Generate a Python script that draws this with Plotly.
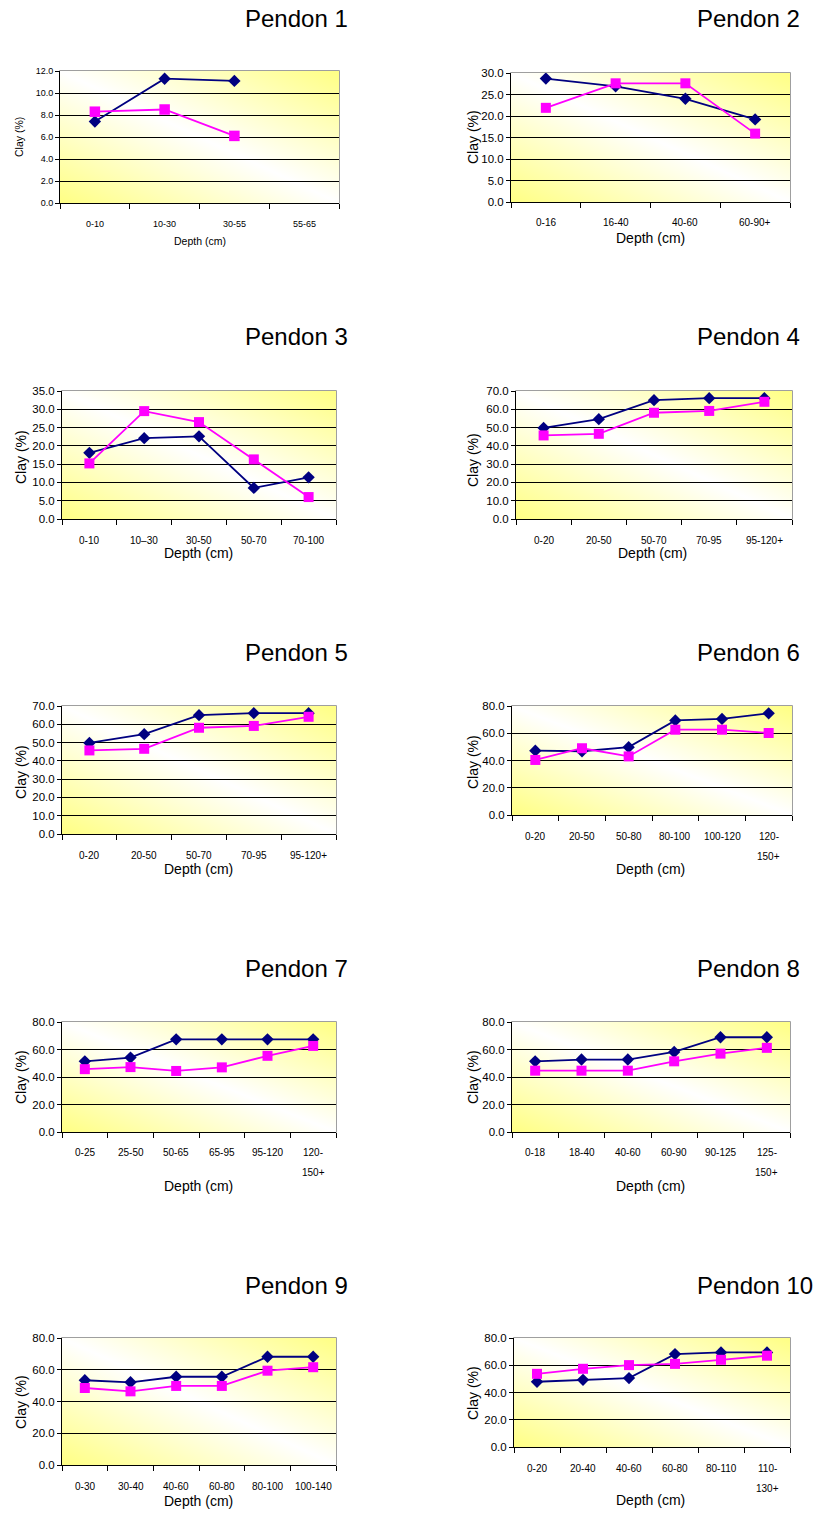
import base64
import plotly.graph_objects as go

# ---------------- data ----------------
titles = ["Pendon 1", "Pendon 2", "Pendon 3", "Pendon 4", "Pendon 5",
          "Pendon 6", "Pendon 7", "Pendon 8", "Pendon 9", "Pendon 10"]

depth_1 = ["0-10", "10-30", "30-55", "55-65"]
navy_1 = [7.4, 11.3, 11.1]
pink_1 = [8.3, 8.5, 6.1]

depth_2 = ["0-16", "16-40", "40-60", "60-90+"]
navy_2 = [28.7, 26.9, 24.0, 19.2]
pink_2 = [21.9, 27.6, 27.6, 15.9]

depth_3 = ["0-10", "10\u201330", "30-50", "50-70", "70-100"]
navy_3 = [18.1, 22.1, 22.6, 8.5, 11.4]
pink_3 = [15.2, 29.5, 26.5, 16.3, 6.0]

depth_4 = ["0-20", "20-50", "50-70", "70-95", "95-120+"]
navy_4 = [49.8, 54.6, 65.0, 66.1, 66.1]
pink_4 = [45.7, 46.6, 58.1, 59.1, 64.1]

depth_5 = ["0-20", "20-50", "50-70", "70-95", "95-120+"]
navy_5 = [49.8, 54.6, 65.0, 66.1, 66.1]
pink_5 = [45.7, 46.6, 58.1, 59.1, 64.1]

depth_6 = ["0-20", "20-50", "50-80", "80-100", "100-120", "120-<br>150+"]
navy_6 = [47.2, 46.8, 49.8, 69.4, 70.5, 74.6]
pink_6 = [40.4, 49.0, 43.0, 62.6, 62.6, 60.2]

depth_7 = ["0-25", "25-50", "50-65", "65-95", "95-120", "120-<br>150+"]
navy_7 = [51.4, 54.1, 67.4, 67.4, 67.4, 67.4]
pink_7 = [45.7, 47.2, 44.4, 47.0, 55.4, 62.6]

depth_8 = ["0-18", "18-40", "40-60", "60-90", "90-125", "125-<br>150+"]
navy_8 = [51.4, 52.7, 52.7, 58.2, 68.9, 68.9]
pink_8 = [44.6, 44.6, 44.6, 51.4, 57.0, 61.2]

depth_9 = ["0-30", "30-40", "40-60", "60-80", "80-100", "100-140"]
navy_9 = [53.4, 52.1, 55.6, 55.6, 68.2, 68.2]
pink_9 = [48.5, 46.4, 49.8, 49.8, 59.4, 61.6]

depth_10 = ["0-20", "20-40", "40-60", "60-80", "80-110", "110-<br>130+"]
navy_10 = [47.9, 49.3, 50.6, 68.2, 69.4, 69.4]
pink_10 = [53.7, 57.4, 60.1, 61.0, 64.0, 67.0]

y_max = [12, 30, 35, 70, 70, 80, 80, 80, 80, 80]
y_step = [2, 5, 5, 10, 10, 20, 20, 20, 20, 20]

depths = [depth_1, depth_2, depth_3, depth_4, depth_5,
          depth_6, depth_7, depth_8, depth_9, depth_10]
navies = [navy_1, navy_2, navy_3, navy_4, navy_5,
          navy_6, navy_7, navy_8, navy_9, navy_10]
pinks = [pink_1, pink_2, pink_3, pink_4, pink_5,
         pink_6, pink_7, pink_8, pink_9, pink_10]

# ---------------- layout geometry (pixels) ----------------
W, H = 821, 1513
boxes = [(60, 71, 339, 203), (511, 73, 790, 202),
         (62, 391, 336, 519), (516, 391, 792, 519),
         (62, 706, 336, 834), (512, 706, 792, 815),
         (62, 1022, 336, 1132), (512, 1022, 790, 1132),
         (62, 1338, 336, 1465), (514, 1338, 790, 1447)]
title_pos = [(243, 19), (695, 19), (243, 337), (695, 337), (243, 652),
             (695, 652), (243, 968), (695, 968), (243, 1285), (695, 1285)]
ytitle_pos = [(19, 137), (473, 137), (21, 457), (473, 460), (21, 772),
              (473, 762), (21, 1077), (473, 1077), (21, 1402), (473, 1393)]
xtitle_pos = [(200, 241), (650, 238), (198, 553), (652, 553), (198, 869),
              (650, 869), (198, 1186), (650, 1186), (198, 1501), (650, 1500)]

FONT = "Liberation Sans, Arial, sans-serif"
NAVY = "#000080"
PINK = "#FF00FF"

svg = ('<svg xmlns="http://www.w3.org/2000/svg" width="100" height="100" '
       'viewBox="0 0 100 100" preserveAspectRatio="none">'
       '<defs><linearGradient id="g" x1="0" y1="1" x2="1" y2="0">'
       '<stop offset="0" stop-color="#FFFF84"/>'
       '<stop offset="0.5" stop-color="#FFFFFF"/>'
       '<stop offset="1" stop-color="#FFFF84"/>'
       '</linearGradient></defs>'
       '<rect x="0" y="0" width="100" height="100" fill="url(#g)"/></svg>')
bg_src = "data:image/svg+xml;base64," + base64.b64encode(svg.encode()).decode()

fig = go.Figure()
annotations = []
shapes = []
images = []
layout_axes = {}

for k in range(10):
    idx = k + 1
    sfx = "" if idx == 1 else str(idx)
    xa, ya = "x" + sfx, "y" + sfx
    x0, y0, x1, y1 = boxes[k]
    cats = depths[k]
    n = len(cats)
    small = (k == 0)
    tick_fs = 9 if small else 10
    ytick_fs = 9 if small else 11.5
    title_fs = 10.5 if small else 14
    dsize = 9.5
    ssize = 10.5 if small else 10

    xs_n = list(range(len(navies[k])))
    xs_p = list(range(len(pinks[k])))
    fig.add_trace(go.Scatter(x=xs_n, y=navies[k], xaxis=xa, yaxis=ya,
                             mode="lines+markers", showlegend=False,
                             line=dict(color=NAVY, width=1.8),
                             marker=dict(symbol="diamond", size=dsize, color=NAVY)))
    fig.add_trace(go.Scatter(x=xs_p, y=pinks[k], xaxis=xa, yaxis=ya,
                             mode="lines+markers", showlegend=False,
                             line=dict(color=PINK, width=1.8),
                             marker=dict(symbol="square", size=ssize, color=PINK)))

    layout_axes["xaxis" + sfx] = dict(
        domain=[x0 / W, x1 / W], anchor=ya, range=[-0.5, n - 0.5],
        tickmode="array", tickvals=[i - 0.5 for i in range(n + 1)],
        ticktext=[""] * (n + 1), ticks="outside", ticklen=5, tickwidth=1,
        tickcolor="#000", showline=True, linecolor="#000", linewidth=1,
        showgrid=False, zeroline=False, fixedrange=True, automargin=False)
    layout_axes["yaxis" + sfx] = dict(
        domain=[1 - y1 / H, 1 - y0 / H], anchor=xa, range=[0, y_max[k]],
        dtick=y_step[k], tick0=0, tickformat=".1f", ticks="outside",
        ticklen=4, tickwidth=1, tickcolor="#000", showline=True,
        linecolor="#000", linewidth=1, showgrid=True, gridcolor="#000",
        gridwidth=1, zeroline=False, fixedrange=True, automargin=False,
        tickfont=dict(family=FONT, size=ytick_fs, color="#000"))

    images.append(dict(source=bg_src, xref=xa + " domain", yref=ya + " domain",
                       x=0, y=1, sizex=1, sizey=1, sizing="stretch",
                       xanchor="left", yanchor="top", layer="below"))
    shapes.append(dict(type="rect", xref=xa + " domain", yref=ya + " domain",
                       x0=0, y0=0, x1=1, y1=1, layer="below",
                       line=dict(color="#808080", width=1.5)))

    # category labels under the axis
    for i, lab in enumerate(cats):
        for j, line in enumerate(lab.split("<br>")):
            annotations.append(dict(
                x=i, y=0, xref=xa, yref=ya + " domain", text=line,
                showarrow=False, yanchor="middle", xanchor="center",
                yshift=-(21 + 20 * j),
                font=dict(family=FONT, size=tick_fs, color="#000")))

    tx, ty = title_pos[k]
    annotations.append(dict(x=tx / W, y=1 - ty / H, xref="paper", yref="paper",
                            text=titles[k], showarrow=False, xanchor="left",
                            yanchor="middle",
                            font=dict(family=FONT, size=24, color="#000")))
    yx, yy = ytitle_pos[k]
    annotations.append(dict(x=yx / W, y=1 - yy / H, xref="paper", yref="paper",
                            text="Clay (%)", textangle=-90, showarrow=False,
                            xanchor="center", yanchor="middle",
                            font=dict(family=FONT, size=title_fs, color="#000")))
    xx, xy = xtitle_pos[k]
    annotations.append(dict(x=xx / W, y=1 - xy / H, xref="paper", yref="paper",
                            text="Depth (cm)", showarrow=False,
                            xanchor="center", yanchor="middle",
                            font=dict(family=FONT, size=title_fs, color="#000")))

fig.update_layout(
    width=W, height=H, margin=dict(l=0, r=0, t=0, b=0, pad=0, autoexpand=False),
    paper_bgcolor="white", plot_bgcolor="white",
    font=dict(family=FONT, color="#000"),
    showlegend=False, annotations=annotations, shapes=shapes, images=images,
    **layout_axes)

fig.write_html(
    "out.html",
    config={"displayModeBar": False},
    post_script="document.body.style.margin='0';document.body.style.padding='0';"
                "document.documentElement.style.overflow='hidden';")
